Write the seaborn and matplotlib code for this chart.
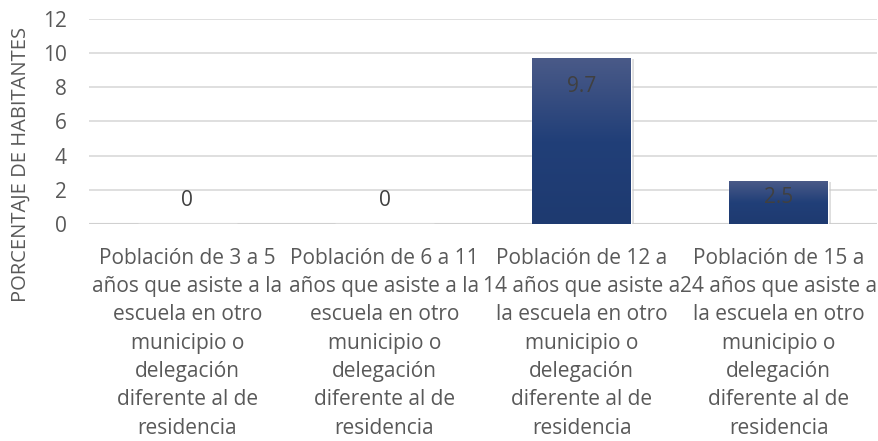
import numpy as np
import pandas as pd
import matplotlib
matplotlib.use("Agg")
import matplotlib.pyplot as plt
import seaborn as sns
from matplotlib.colors import LinearSegmentedColormap
from matplotlib.patches import Rectangle

categories = [
    "Población de 3 a 5\naños que asiste a la\nescuela en otro\nmunicipio o\ndelegación\ndiferente al de\nresidencia",
    "Población de 6 a 11\naños que asiste a la\nescuela en otro\nmunicipio o\ndelegación\ndiferente al de\nresidencia",
    "Población de 12 a\n14 años que asiste a\nla escuela en otro\nmunicipio o\ndelegación\ndiferente al de\nresidencia",
    "Población de 15 a\n24 años que asiste a\nla escuela en otro\nmunicipio o\ndelegación\ndiferente al de\nresidencia",
]
values = [0, 0, 9.7, 2.5]
value_labels = ["0", "0", "9.7", "2.5"]
yticks = [0, 2, 4, 6, 8, 10, 12]

sns.set_theme(style="white")
plt.rcParams['font.family'] = ['Open Sans', 'DejaVu Sans']

df = pd.DataFrame({"cat": categories, "val": values})

fig = plt.figure(figsize=(8.79, 4.41), dpi=100)
ax = fig.add_axes([0.101, 0.492, 0.897, 0.465])

sns.barplot(data=df, x="cat", y="val", ax=ax, color="#1f3b73", width=0.5,
            saturation=1, zorder=3)

ax.set_ylim(0, 12)
ax.set_xlim(-0.5, 3.5)
ax.set_yticks(yticks)
ax.set_yticklabels([str(t) for t in yticks])
ax.yaxis.grid(True, color="#d9d9d9", linewidth=1.2, zorder=0)
ax.set_axisbelow(True)
for s in ["top", "right", "left", "bottom"]:
    ax.spines[s].set_visible(False)
ax.axhline(0, color="#d0d0d0", linewidth=1.5, zorder=2)

ax.tick_params(axis="y", length=0, labelsize=15, labelcolor="#595959", pad=16)
ax.tick_params(axis="x", length=0, labelsize=15, labelcolor="#595959", pad=17)
for lab in ax.get_xticklabels():
    lab.set_linespacing(1.46)

ax.set_xlabel("")
ax.set_ylabel("PORCENTAJE DE HABITANTES", fontsize=14.5, color="#595959")
ax.yaxis.set_label_coords(-0.074, 0.29)

# gradient fill for bars
cmap = LinearSegmentedColormap.from_list("g", ["#1e3a70", "#213f78", "#4a5a88"])
grad = np.linspace(0, 1, 256).reshape(-1, 1)
for p in ax.patches:
    h = p.get_height()
    if h <= 0:
        continue
    x0, w = p.get_x(), p.get_width()
    sh = Rectangle((x0 + 0.012, 0), w + 0.004, h - 0.05, facecolor="#c8c8c8",
                   edgecolor="none", alpha=0.6, zorder=2.5)
    ax.add_patch(sh)
    p.set_facecolor("none")
    im = ax.imshow(grad, cmap=cmap, aspect="auto", origin="lower",
                   extent=(x0, x0 + w, 0, h), zorder=3, interpolation="bilinear")
    im.set_clip_path(p)
ax.set_xlim(-0.5, 3.5)
ax.set_ylim(0, 12)

for i, (v, t) in enumerate(zip(values, value_labels)):
    if v <= 0:
        y = 1.4
    else:
        y = max(v - 1.65, v / 2 + 0.3)
    ax.text(i, y, t, ha="center", va="center", fontsize=15, color="#404040", zorder=5)

fig.savefig("out.png", dpi=100)
